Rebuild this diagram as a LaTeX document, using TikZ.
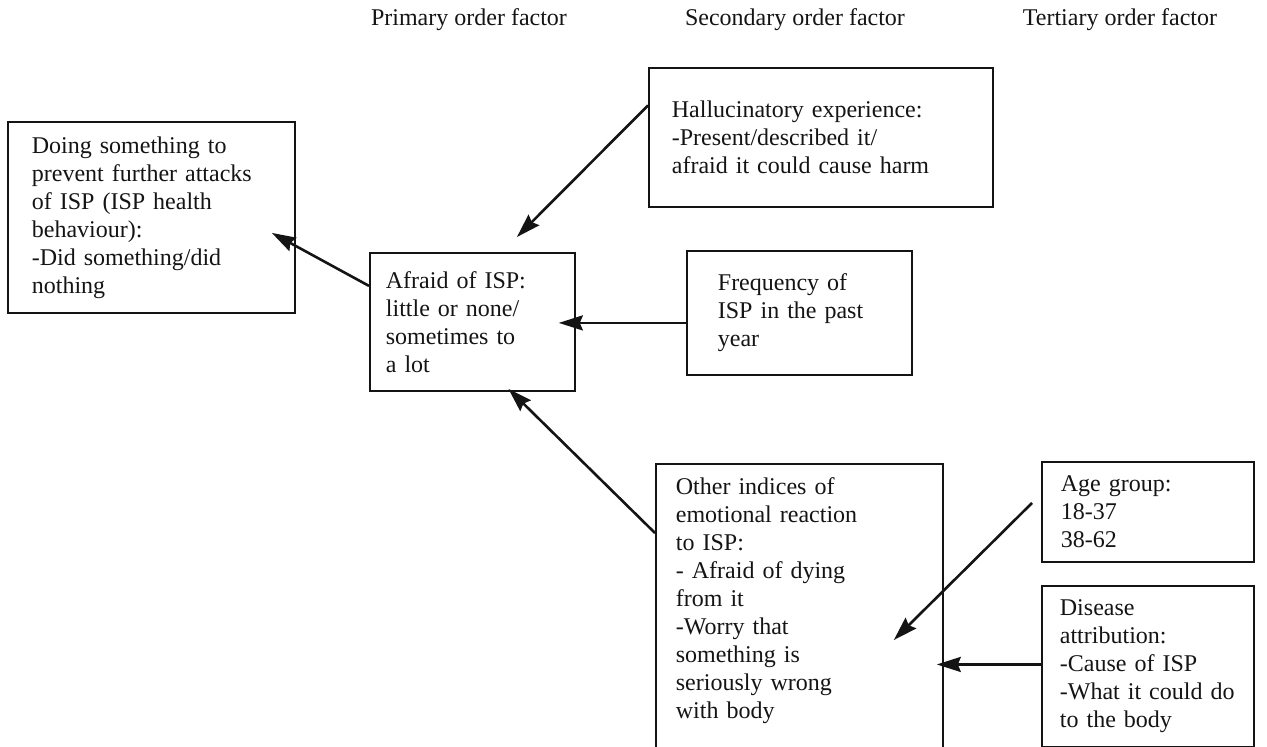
\documentclass[tikz,border=0pt]{standalone}
\usepackage{fontspec}
\setmainfont{Liberation Serif}
\usetikzlibrary{positioning,calc,arrows.meta}
\definecolor{Ink}{HTML}{141414}
\tikzset{
  factor box/.style={draw=Ink,line width=.9pt,anchor=north west,align=left,
    font=\fontsize{12}{14}\selectfont,text=Ink,inner xsep=0pt,inner ysep=7pt},
  factor head/.style={font=\fontsize{12}{14}\selectfont,text=Ink},
  factor arrow/.style={-{Stealth[length=12pt,width=7.5pt,inset=1.5pt]},line width=1.3pt,draw=Ink}
}

\begin{document}
\begin{tikzpicture}[x=.5pt,y=-.5pt]
  \useasboundingbox (0,0) rectangle (1267,746);
  \node[factor head] (primary) at (469,20) {Primary order factor};
  \node[factor head] (secondary) at (795,20) {Secondary order factor};
  \node[factor head] (tertiary) at (1120,20) {Tertiary order factor};
  \node[factor box,text width=119.5pt,minimum width=143.5pt,minimum height=95.5pt] (doing) at (7,121) {Doing something to\\prevent further attacks\\of ISP (ISP health\\behaviour):\\-Did something/did\\nothing};
  \node[factor box,text width=86.5pt,minimum width=102.5pt,minimum height=69pt] (afraid) at (369,252) {Afraid of ISP:\\little or none/\\sometimes to\\a lot};
  \node[factor box,text width=149pt,minimum width=172pt,minimum height=69.5pt] (halluc) at (648,67) {Hallucinatory experience:\\-Present/described it/\\afraid it could cause harm};
  \node[factor box,text width=81.5pt,minimum width=112.5pt,minimum height=62pt] (freq) at (686,250) {Frequency of\\ISP in the past\\year};
  \node[factor box,text width=123.5pt,minimum width=143.5pt] (other) at (655,463) {Other indices of\\emotional reaction\\to ISP:\\- Afraid of dying\\from it\\-Worry that\\something is\\seriously wrong\\with body\\~\\~};
  \node[factor box,text width=87pt,minimum width=106pt,minimum height=50pt] (age) at (1041,461) {Age group:\\18-37\\38-62};
  \node[factor box,text width=88pt,minimum width=106pt,minimum height=79pt] (disease) at (1041,585) {Disease\\attribution:\\-Cause of ISP\\-What it could do\\to the body};
  % arrow heads end inside the boxes
  \coordinate (doing tip) at ($(doing.east)+(-24,15.5)$);
  \coordinate (afraid top) at ($(afraid.north)+(44.5,-15)$);
  \coordinate (afraid right) at ($(afraid.east)+(-17,1)$);
  \coordinate (afraid low) at ($(afraid.south)+(36,-3)$);
  \coordinate (other age) at ($(other.north east)+(-50,177)$);
  \coordinate (other disease) at ($(other.east |- disease.west)+(-7,-2)$);
  \draw[factor arrow] ([yshift=18pt]afraid.west) -- (doing tip);
  \draw[factor arrow] ([yshift=16pt]halluc.west) -- (afraid top);
  \draw[factor arrow] ([yshift=-5pt]freq.west) -- (afraid right);
  \draw[factor arrow] ([yshift=-35pt]other.north west) -- (afraid low);
  \draw[factor arrow] ($(age.west)+(-9,-9)$) -- (other age);
  \draw[factor arrow] ([yshift=1pt]disease.west) -- (other disease);
\end{tikzpicture}
\end{document}
